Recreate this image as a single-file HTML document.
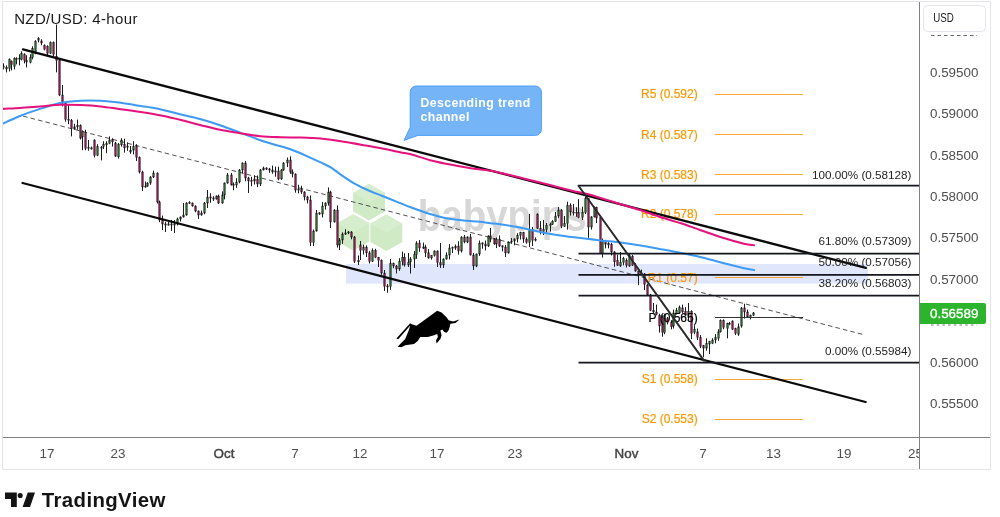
<!DOCTYPE html>
<html><head><meta charset="utf-8"><title>NZD/USD</title>
<style>
html,body{margin:0;padding:0;background:#fff;}
body{width:1000px;height:517px;overflow:hidden;font-family:"Liberation Sans",sans-serif;}
svg{display:block;will-change:transform;}
text{font-family:"Liberation Sans",sans-serif;}
.ax{font-size:13.4px;fill:#4f4f4f;}
.ax.b{fill:#444;stroke:#444;stroke-width:0.45px;}
.pv{font-size:12px;fill:#ff9800;stroke:#ff9800;stroke-width:0.2px;}
.fb{font-size:11.7px;fill:#1e1e1e;}
</style></head><body>
<svg width="1000" height="517" viewBox="0 0 1000 517">
<rect x="0" y="0" width="1000" height="517" fill="#fff"/>
<!-- frame -->
<rect x="2.5" y="1.5" width="988" height="468" fill="none" stroke="#e4e5e9" stroke-width="1"/>
<defs><clipPath id="plot"><rect x="3" y="2" width="916" height="435"/></clipPath></defs>
<g clip-path="url(#plot)">
<!-- watermark -->
<g fill="#cfeac4">
<path d="M369 183.95L385.0 193.075V211.325L369 220.45L353.0 211.325V193.075Z"/><path d="M353.3 214.15L369.3 223.275V241.525L353.3 250.65L337.3 241.525V223.275Z"/><path d="M386.3 214.55L402.3 223.675V241.925L386.3 251.05L370.3 241.925V223.675Z"/>
</g>
<g fill="#d6eecd">
<path d="M369 183.95L385.0 193.075L369 202.2L353.0 193.075Z"/><path d="M353.3 214.15L369.3 223.275L353.3 232.4L337.3 223.275Z"/><path d="M386.3 214.55L402.3 223.675L386.3 232.8L370.3 223.675Z"/>
</g>
<text x="417.8" y="230.6" font-size="44.7" font-weight="bold" fill="#d7d7d7" transform="translate(417.8 0) scale(0.861 1) translate(-417.8 0)">babypips</text>
<!-- zone -->
<rect x="346" y="264" width="522" height="19.6" fill="#dbe3fc" fill-opacity="0.85"/>
<!-- dashed mid -->
<path d="M23.1 116.1L863 334.5" stroke="#484848" stroke-width="0.95" stroke-dasharray="4.6 3.1" fill="none"/>
<!-- candles -->
<path d="M3.5 63.4V69.4" stroke="#1c1c1c" stroke-width="1"/>
<rect x="2.78" y="66.0" width="1.45" height="1.5" fill="#27702b" stroke="#1c1c1c" stroke-width="0.5"/>
<path d="M6.5 65.4V72.4" stroke="#1c1c1c" stroke-width="1"/>
<rect x="5.78" y="67.5" width="1.45" height="1.5" fill="#9c1456" stroke="#1c1c1c" stroke-width="0.5"/>
<path d="M9.5 58.4V71.4" stroke="#1c1c1c" stroke-width="1"/>
<rect x="8.78" y="59.4" width="1.45" height="9.0" fill="#27702b" stroke="#1c1c1c" stroke-width="0.5"/>
<path d="M11.5 60.4V70.4" stroke="#1c1c1c" stroke-width="1"/>
<rect x="10.78" y="61.4" width="1.45" height="3.1" fill="#9c1456" stroke="#1c1c1c" stroke-width="0.5"/>
<path d="M14.5 57.3V69.4" stroke="#1c1c1c" stroke-width="1"/>
<rect x="13.78" y="58.4" width="1.45" height="8.0" fill="#27702b" stroke="#1c1c1c" stroke-width="0.5"/>
<path d="M16.5 57.3V64.4" stroke="#1c1c1c" stroke-width="1"/>
<rect x="15.78" y="58.4" width="1.45" height="1.2" fill="#9c1456" stroke="#1c1c1c" stroke-width="0.5"/>
<path d="M19.5 54.3V65.4" stroke="#1c1c1c" stroke-width="1"/>
<rect x="18.78" y="58.0" width="1.45" height="1.5" fill="#27702b" stroke="#1c1c1c" stroke-width="0.5"/>
<path d="M21.5 51.3V60.4" stroke="#1c1c1c" stroke-width="1"/>
<rect x="20.78" y="53.3" width="1.45" height="6.1" fill="#27702b" stroke="#1c1c1c" stroke-width="0.5"/>
<path d="M24.5 53.3V63.4" stroke="#1c1c1c" stroke-width="1"/>
<rect x="23.78" y="54.3" width="1.45" height="6.1" fill="#9c1456" stroke="#1c1c1c" stroke-width="0.5"/>
<path d="M26.5 55.3V67.4" stroke="#1c1c1c" stroke-width="1"/>
<rect x="25.78" y="60.4" width="1.45" height="1.6" fill="#9c1456" stroke="#1c1c1c" stroke-width="0.5"/>
<path d="M30.5 54.3V63.4" stroke="#1c1c1c" stroke-width="1"/>
<rect x="29.78" y="57.3" width="1.45" height="5.1" fill="#27702b" stroke="#1c1c1c" stroke-width="0.5"/>
<path d="M32.5 46.3V59.4" stroke="#1c1c1c" stroke-width="1"/>
<rect x="31.78" y="48.3" width="1.45" height="9.0" fill="#27702b" stroke="#1c1c1c" stroke-width="0.5"/>
<path d="M35.5 40.2V54.3" stroke="#1c1c1c" stroke-width="1"/>
<rect x="34.78" y="41.2" width="1.45" height="12.1" fill="#27702b" stroke="#1c1c1c" stroke-width="0.5"/>
<path d="M38.5 37.2V42.3" stroke="#1c1c1c" stroke-width="1"/>
<rect x="37.78" y="38.6" width="1.45" height="1.6" fill="#27702b" stroke="#1c1c1c" stroke-width="0.5"/>
<path d="M41.5 39.2V45.3" stroke="#1c1c1c" stroke-width="1"/>
<rect x="40.78" y="41.0" width="1.45" height="2.0" fill="#9c1456" stroke="#1c1c1c" stroke-width="0.5"/>
<path d="M44.5 44.3V50.3" stroke="#1c1c1c" stroke-width="1"/>
<rect x="43.78" y="45.3" width="1.45" height="4.0" fill="#9c1456" stroke="#1c1c1c" stroke-width="0.5"/>
<path d="M47.5 45.3V56.3" stroke="#1c1c1c" stroke-width="1"/>
<rect x="46.78" y="46.3" width="1.45" height="7.0" fill="#9c1456" stroke="#1c1c1c" stroke-width="0.5"/>
<path d="M50.5 41.5V54.0" stroke="#1c1c1c" stroke-width="1"/>
<rect x="49.78" y="42.3" width="1.45" height="11.0" fill="#27702b" stroke="#1c1c1c" stroke-width="0.5"/>
<path d="M53.5 41.5V56.3" stroke="#1c1c1c" stroke-width="1"/>
<rect x="52.78" y="42.3" width="1.45" height="12.0" fill="#9c1456" stroke="#1c1c1c" stroke-width="0.5"/>
<path d="M56.5 24.5V72.4" stroke="#1c1c1c" stroke-width="1"/>
<rect x="55.78" y="56.3" width="1.45" height="4.3" fill="#9c1456" stroke="#1c1c1c" stroke-width="0.5"/>
<path d="M59.5 58.9V96.1" stroke="#1c1c1c" stroke-width="1"/>
<rect x="58.78" y="60.6" width="1.45" height="34.4" fill="#9c1456" stroke="#1c1c1c" stroke-width="0.5"/>
<path d="M62.5 85.0V106.4" stroke="#1c1c1c" stroke-width="1"/>
<rect x="61.78" y="95.0" width="1.45" height="8.5" fill="#9c1456" stroke="#1c1c1c" stroke-width="0.5"/>
<path d="M65.5 102.6V121.7" stroke="#1c1c1c" stroke-width="1"/>
<rect x="64.78" y="103.5" width="1.45" height="16.0" fill="#9c1456" stroke="#1c1c1c" stroke-width="0.5"/>
<path d="M68.5 104.0V124.2" stroke="#1c1c1c" stroke-width="1"/>
<rect x="67.78" y="119.2" width="1.45" height="1.2" fill="#9c1456" stroke="#1c1c1c" stroke-width="0.5"/>
<path d="M71.5 119.0V136.4" stroke="#1c1c1c" stroke-width="1"/>
<rect x="70.78" y="120.2" width="1.45" height="8.4" fill="#9c1456" stroke="#1c1c1c" stroke-width="0.5"/>
<path d="M74.5 123.8V129.8" stroke="#1c1c1c" stroke-width="1"/>
<rect x="73.78" y="126.8" width="1.45" height="2.4" fill="#27702b" stroke="#1c1c1c" stroke-width="0.5"/>
<path d="M77.5 119.6V129.8" stroke="#1c1c1c" stroke-width="1"/>
<rect x="76.78" y="125.7" width="1.45" height="1.2" fill="#27702b" stroke="#1c1c1c" stroke-width="0.5"/>
<path d="M80.5 124.4V139.4" stroke="#1c1c1c" stroke-width="1"/>
<rect x="79.78" y="125.6" width="1.45" height="12.6" fill="#9c1456" stroke="#1c1c1c" stroke-width="0.5"/>
<path d="M82.5 130.4V150.2" stroke="#1c1c1c" stroke-width="1"/>
<rect x="81.78" y="131.6" width="1.45" height="5.4" fill="#27702b" stroke="#1c1c1c" stroke-width="0.5"/>
<path d="M85.5 129.8V150.2" stroke="#1c1c1c" stroke-width="1"/>
<rect x="84.78" y="132.2" width="1.45" height="16.2" fill="#9c1456" stroke="#1c1c1c" stroke-width="0.5"/>
<path d="M88.5 140.0V150.8" stroke="#1c1c1c" stroke-width="1"/>
<rect x="87.78" y="147.2" width="1.45" height="1.2" fill="#27702b" stroke="#1c1c1c" stroke-width="0.5"/>
<path d="M91.5 146.6V149.6" stroke="#1c1c1c" stroke-width="1"/>
<rect x="90.78" y="147.8" width="1.45" height="1.2" fill="#9c1456" stroke="#1c1c1c" stroke-width="0.5"/>
<path d="M94.5 139.4V157.4" stroke="#1c1c1c" stroke-width="1"/>
<rect x="93.78" y="140.0" width="1.45" height="15.6" fill="#9c1456" stroke="#1c1c1c" stroke-width="0.5"/>
<path d="M97.5 144.2V156.2" stroke="#1c1c1c" stroke-width="1"/>
<rect x="96.78" y="146.6" width="1.45" height="9.0" fill="#27702b" stroke="#1c1c1c" stroke-width="0.5"/>
<path d="M101.5 146.0V160.4" stroke="#1c1c1c" stroke-width="1"/>
<rect x="100.78" y="147.2" width="1.45" height="1.2" fill="#9c1456" stroke="#1c1c1c" stroke-width="0.5"/>
<path d="M103.5 141.2V149.0" stroke="#1c1c1c" stroke-width="1"/>
<rect x="102.78" y="144.2" width="1.45" height="2.4" fill="#27702b" stroke="#1c1c1c" stroke-width="0.5"/>
<path d="M106.5 141.2V153.2" stroke="#1c1c1c" stroke-width="1"/>
<rect x="105.78" y="143.6" width="1.45" height="1.2" fill="#27702b" stroke="#1c1c1c" stroke-width="0.5"/>
<path d="M109.5 136.4V144.2" stroke="#1c1c1c" stroke-width="1"/>
<rect x="108.78" y="140.0" width="1.45" height="3.6" fill="#27702b" stroke="#1c1c1c" stroke-width="0.5"/>
<path d="M112.5 138.2V146.6" stroke="#1c1c1c" stroke-width="1"/>
<rect x="111.78" y="139.4" width="1.45" height="2.4" fill="#9c1456" stroke="#1c1c1c" stroke-width="0.5"/>
<path d="M115.5 141.8V156.8" stroke="#1c1c1c" stroke-width="1"/>
<rect x="114.78" y="143.0" width="1.45" height="13.2" fill="#9c1456" stroke="#1c1c1c" stroke-width="0.5"/>
<path d="M118.5 143.0V158.6" stroke="#1c1c1c" stroke-width="1"/>
<rect x="117.78" y="144.2" width="1.45" height="12.6" fill="#27702b" stroke="#1c1c1c" stroke-width="0.5"/>
<path d="M121.5 138.2V146.6" stroke="#1c1c1c" stroke-width="1"/>
<rect x="120.78" y="140.0" width="1.45" height="4.8" fill="#27702b" stroke="#1c1c1c" stroke-width="0.5"/>
<path d="M124.5 138.8V152.6" stroke="#1c1c1c" stroke-width="1"/>
<rect x="123.78" y="144.2" width="1.45" height="3.6" fill="#9c1456" stroke="#1c1c1c" stroke-width="0.5"/>
<path d="M127.5 142.4V150.8" stroke="#1c1c1c" stroke-width="1"/>
<rect x="126.78" y="146.0" width="1.45" height="1.2" fill="#27702b" stroke="#1c1c1c" stroke-width="0.5"/>
<path d="M130.5 146.0V153.8" stroke="#1c1c1c" stroke-width="1"/>
<rect x="129.78" y="150.2" width="1.45" height="1.8" fill="#9c1456" stroke="#1c1c1c" stroke-width="0.5"/>
<path d="M133.5 141.2V154.4" stroke="#1c1c1c" stroke-width="1"/>
<rect x="132.78" y="146.6" width="1.45" height="3.6" fill="#27702b" stroke="#1c1c1c" stroke-width="0.5"/>
<path d="M136.5 144.2V161.0" stroke="#1c1c1c" stroke-width="1"/>
<rect x="135.78" y="146.0" width="1.45" height="11.4" fill="#9c1456" stroke="#1c1c1c" stroke-width="0.5"/>
<path d="M139.5 156.4V173.5" stroke="#1c1c1c" stroke-width="1"/>
<rect x="138.78" y="157.4" width="1.45" height="14.6" fill="#9c1456" stroke="#1c1c1c" stroke-width="0.5"/>
<path d="M142.5 170.7V190.9" stroke="#1c1c1c" stroke-width="1"/>
<rect x="141.78" y="172.0" width="1.45" height="15.0" fill="#9c1456" stroke="#1c1c1c" stroke-width="0.5"/>
<path d="M145.5 181.5V187.8" stroke="#1c1c1c" stroke-width="1"/>
<rect x="144.78" y="185.9" width="1.45" height="1.2" fill="#27702b" stroke="#1c1c1c" stroke-width="0.5"/>
<path d="M147.5 182.2V186.9" stroke="#1c1c1c" stroke-width="1"/>
<rect x="146.78" y="183.0" width="1.45" height="3.0" fill="#27702b" stroke="#1c1c1c" stroke-width="0.5"/>
<path d="M150.5 176.1V184.8" stroke="#1c1c1c" stroke-width="1"/>
<rect x="149.78" y="177.0" width="1.45" height="6.0" fill="#27702b" stroke="#1c1c1c" stroke-width="0.5"/>
<path d="M153.5 170.7V178.0" stroke="#1c1c1c" stroke-width="1"/>
<rect x="152.78" y="173.0" width="1.45" height="4.0" fill="#27702b" stroke="#1c1c1c" stroke-width="0.5"/>
<path d="M157.5 172.5V203.5" stroke="#1c1c1c" stroke-width="1"/>
<rect x="156.78" y="173.0" width="1.45" height="29.0" fill="#9c1456" stroke="#1c1c1c" stroke-width="0.5"/>
<path d="M159.5 200.6V222.2" stroke="#1c1c1c" stroke-width="1"/>
<rect x="158.78" y="202.0" width="1.45" height="18.0" fill="#9c1456" stroke="#1c1c1c" stroke-width="0.5"/>
<path d="M162.5 215.6V230.0" stroke="#1c1c1c" stroke-width="1"/>
<rect x="161.78" y="220.0" width="1.45" height="4.0" fill="#9c1456" stroke="#1c1c1c" stroke-width="0.5"/>
<path d="M165.5 221.9V232.0" stroke="#1c1c1c" stroke-width="1"/>
<rect x="164.78" y="223.9" width="1.45" height="1.2" fill="#9c1456" stroke="#1c1c1c" stroke-width="0.5"/>
<path d="M168.5 221.2V225.6" stroke="#1c1c1c" stroke-width="1"/>
<rect x="167.78" y="223.9" width="1.45" height="1.2" fill="#27702b" stroke="#1c1c1c" stroke-width="0.5"/>
<path d="M171.5 219.9V231.0" stroke="#1c1c1c" stroke-width="1"/>
<rect x="170.78" y="223.9" width="1.45" height="1.2" fill="#9c1456" stroke="#1c1c1c" stroke-width="0.5"/>
<path d="M174.5 220.0V233.0" stroke="#1c1c1c" stroke-width="1"/>
<rect x="173.78" y="223.9" width="1.45" height="1.2" fill="#27702b" stroke="#1c1c1c" stroke-width="0.5"/>
<path d="M177.5 217.6V225.5" stroke="#1c1c1c" stroke-width="1"/>
<rect x="176.78" y="219.0" width="1.45" height="5.0" fill="#27702b" stroke="#1c1c1c" stroke-width="0.5"/>
<path d="M180.5 216.4V221.5" stroke="#1c1c1c" stroke-width="1"/>
<rect x="179.78" y="217.0" width="1.45" height="2.0" fill="#27702b" stroke="#1c1c1c" stroke-width="0.5"/>
<path d="M183.5 203.0V217.6" stroke="#1c1c1c" stroke-width="1"/>
<rect x="182.78" y="215.0" width="1.45" height="2.0" fill="#27702b" stroke="#1c1c1c" stroke-width="0.5"/>
<path d="M186.5 202.2V215.7" stroke="#1c1c1c" stroke-width="1"/>
<rect x="185.78" y="203.0" width="1.45" height="12.0" fill="#27702b" stroke="#1c1c1c" stroke-width="0.5"/>
<path d="M189.5 201.2V204.1" stroke="#1c1c1c" stroke-width="1"/>
<rect x="188.78" y="202.4" width="1.45" height="1.2" fill="#9c1456" stroke="#1c1c1c" stroke-width="0.5"/>
<path d="M192.5 202.5V206.7" stroke="#1c1c1c" stroke-width="1"/>
<rect x="191.78" y="203.0" width="1.45" height="3.0" fill="#9c1456" stroke="#1c1c1c" stroke-width="0.5"/>
<path d="M195.5 205.4V212.3" stroke="#1c1c1c" stroke-width="1"/>
<rect x="194.78" y="206.0" width="1.45" height="5.0" fill="#9c1456" stroke="#1c1c1c" stroke-width="0.5"/>
<path d="M198.5 210.5V218.9" stroke="#1c1c1c" stroke-width="1"/>
<rect x="197.78" y="211.0" width="1.45" height="4.0" fill="#9c1456" stroke="#1c1c1c" stroke-width="0.5"/>
<path d="M201.5 210.6V215.7" stroke="#1c1c1c" stroke-width="1"/>
<rect x="200.78" y="213.0" width="1.45" height="2.0" fill="#27702b" stroke="#1c1c1c" stroke-width="0.5"/>
<path d="M204.5 202.0V214.3" stroke="#1c1c1c" stroke-width="1"/>
<rect x="203.78" y="203.0" width="1.45" height="10.0" fill="#27702b" stroke="#1c1c1c" stroke-width="0.5"/>
<path d="M207.5 190.0V208.0" stroke="#1c1c1c" stroke-width="1"/>
<rect x="206.78" y="197.0" width="1.45" height="6.0" fill="#27702b" stroke="#1c1c1c" stroke-width="0.5"/>
<path d="M210.5 193.2V202.8" stroke="#1c1c1c" stroke-width="1"/>
<rect x="209.78" y="196.9" width="1.45" height="1.2" fill="#9c1456" stroke="#1c1c1c" stroke-width="0.5"/>
<path d="M213.5 196.2V200.9" stroke="#1c1c1c" stroke-width="1"/>
<rect x="212.78" y="197.9" width="1.45" height="1.2" fill="#9c1456" stroke="#1c1c1c" stroke-width="0.5"/>
<path d="M216.5 195.4V199.6" stroke="#1c1c1c" stroke-width="1"/>
<rect x="215.78" y="196.0" width="1.45" height="3.0" fill="#27702b" stroke="#1c1c1c" stroke-width="0.5"/>
<path d="M218.5 194.7V204.0" stroke="#1c1c1c" stroke-width="1"/>
<rect x="217.78" y="196.0" width="1.45" height="7.0" fill="#9c1456" stroke="#1c1c1c" stroke-width="0.5"/>
<path d="M222.5 191.4V203.7" stroke="#1c1c1c" stroke-width="1"/>
<rect x="221.78" y="195.0" width="1.45" height="8.0" fill="#27702b" stroke="#1c1c1c" stroke-width="0.5"/>
<path d="M224.5 182.5V199.4" stroke="#1c1c1c" stroke-width="1"/>
<rect x="223.78" y="183.0" width="1.45" height="12.0" fill="#27702b" stroke="#1c1c1c" stroke-width="0.5"/>
<path d="M227.5 173.0V183.7" stroke="#1c1c1c" stroke-width="1"/>
<rect x="226.78" y="175.0" width="1.45" height="8.0" fill="#27702b" stroke="#1c1c1c" stroke-width="0.5"/>
<path d="M231.5 172.9V185.5" stroke="#1c1c1c" stroke-width="1"/>
<rect x="230.78" y="175.0" width="1.45" height="10.0" fill="#9c1456" stroke="#1c1c1c" stroke-width="0.5"/>
<path d="M233.5 182.4V190.2" stroke="#1c1c1c" stroke-width="1"/>
<rect x="232.78" y="184.4" width="1.45" height="1.2" fill="#9c1456" stroke="#1c1c1c" stroke-width="0.5"/>
<path d="M236.5 178.2V187.9" stroke="#1c1c1c" stroke-width="1"/>
<rect x="235.78" y="182.0" width="1.45" height="3.0" fill="#27702b" stroke="#1c1c1c" stroke-width="0.5"/>
<path d="M239.5 169.0V183.3" stroke="#1c1c1c" stroke-width="1"/>
<rect x="238.78" y="170.0" width="1.45" height="12.0" fill="#27702b" stroke="#1c1c1c" stroke-width="0.5"/>
<path d="M242.5 162.3V173.3" stroke="#1c1c1c" stroke-width="1"/>
<rect x="241.78" y="163.0" width="1.45" height="7.0" fill="#27702b" stroke="#1c1c1c" stroke-width="0.5"/>
<path d="M245.5 161.0V181.3" stroke="#1c1c1c" stroke-width="1"/>
<rect x="244.78" y="163.0" width="1.45" height="15.0" fill="#9c1456" stroke="#1c1c1c" stroke-width="0.5"/>
<path d="M248.5 176.8V193.0" stroke="#1c1c1c" stroke-width="1"/>
<rect x="247.78" y="178.0" width="1.45" height="3.0" fill="#9c1456" stroke="#1c1c1c" stroke-width="0.5"/>
<path d="M251.5 176.9V186.2" stroke="#1c1c1c" stroke-width="1"/>
<rect x="250.78" y="180.4" width="1.45" height="1.2" fill="#9c1456" stroke="#1c1c1c" stroke-width="0.5"/>
<path d="M254.5 175.2V184.5" stroke="#1c1c1c" stroke-width="1"/>
<rect x="253.78" y="179.0" width="1.45" height="2.0" fill="#27702b" stroke="#1c1c1c" stroke-width="0.5"/>
<path d="M257.5 175.5V187.1" stroke="#1c1c1c" stroke-width="1"/>
<rect x="256.78" y="179.0" width="1.45" height="5.0" fill="#9c1456" stroke="#1c1c1c" stroke-width="0.5"/>
<path d="M260.5 169.1V186.0" stroke="#1c1c1c" stroke-width="1"/>
<rect x="259.78" y="170.0" width="1.45" height="14.0" fill="#27702b" stroke="#1c1c1c" stroke-width="0.5"/>
<path d="M263.5 166.7V170.5" stroke="#1c1c1c" stroke-width="1"/>
<rect x="262.78" y="168.0" width="1.45" height="2.0" fill="#27702b" stroke="#1c1c1c" stroke-width="0.5"/>
<path d="M266.5 167.4V170.1" stroke="#1c1c1c" stroke-width="1"/>
<rect x="265.78" y="167.9" width="1.45" height="1.2" fill="#9c1456" stroke="#1c1c1c" stroke-width="0.5"/>
<path d="M269.5 167.9V172.9" stroke="#1c1c1c" stroke-width="1"/>
<rect x="268.78" y="168.9" width="1.45" height="1.2" fill="#9c1456" stroke="#1c1c1c" stroke-width="0.5"/>
<path d="M272.5 165.6V173.7" stroke="#1c1c1c" stroke-width="1"/>
<rect x="271.78" y="170.0" width="1.45" height="2.0" fill="#9c1456" stroke="#1c1c1c" stroke-width="0.5"/>
<path d="M275.5 166.6V176.7" stroke="#1c1c1c" stroke-width="1"/>
<rect x="274.78" y="170.9" width="1.45" height="1.2" fill="#27702b" stroke="#1c1c1c" stroke-width="0.5"/>
<path d="M278.5 166.6V180.3" stroke="#1c1c1c" stroke-width="1"/>
<rect x="277.78" y="171.0" width="1.45" height="8.0" fill="#9c1456" stroke="#1c1c1c" stroke-width="0.5"/>
<path d="M281.5 169.1V179.9" stroke="#1c1c1c" stroke-width="1"/>
<rect x="280.78" y="170.0" width="1.45" height="9.0" fill="#27702b" stroke="#1c1c1c" stroke-width="0.5"/>
<path d="M283.5 162.2V170.8" stroke="#1c1c1c" stroke-width="1"/>
<rect x="282.78" y="163.0" width="1.45" height="7.0" fill="#27702b" stroke="#1c1c1c" stroke-width="0.5"/>
<path d="M287.5 157.5V167.1" stroke="#1c1c1c" stroke-width="1"/>
<rect x="286.78" y="160.0" width="1.45" height="3.0" fill="#27702b" stroke="#1c1c1c" stroke-width="0.5"/>
<path d="M290.5 156.3V173.8" stroke="#1c1c1c" stroke-width="1"/>
<rect x="289.78" y="160.0" width="1.45" height="12.0" fill="#9c1456" stroke="#1c1c1c" stroke-width="0.5"/>
<path d="M292.5 169.4V177.4" stroke="#1c1c1c" stroke-width="1"/>
<rect x="291.78" y="172.0" width="1.45" height="2.0" fill="#9c1456" stroke="#1c1c1c" stroke-width="0.5"/>
<path d="M295.5 173.4V192.7" stroke="#1c1c1c" stroke-width="1"/>
<rect x="294.78" y="174.0" width="1.45" height="16.0" fill="#9c1456" stroke="#1c1c1c" stroke-width="0.5"/>
<path d="M298.5 184.8V193.4" stroke="#1c1c1c" stroke-width="1"/>
<rect x="297.78" y="188.9" width="1.45" height="1.2" fill="#27702b" stroke="#1c1c1c" stroke-width="0.5"/>
<path d="M301.5 185.8V193.8" stroke="#1c1c1c" stroke-width="1"/>
<rect x="300.78" y="189.0" width="1.45" height="3.0" fill="#9c1456" stroke="#1c1c1c" stroke-width="0.5"/>
<path d="M304.5 191.2V200.4" stroke="#1c1c1c" stroke-width="1"/>
<rect x="303.78" y="192.0" width="1.45" height="5.0" fill="#9c1456" stroke="#1c1c1c" stroke-width="0.5"/>
<path d="M307.5 195.8V203.4" stroke="#1c1c1c" stroke-width="1"/>
<rect x="306.78" y="197.0" width="1.45" height="3.0" fill="#9c1456" stroke="#1c1c1c" stroke-width="0.5"/>
<path d="M310.5 195.5V246.0" stroke="#1c1c1c" stroke-width="1"/>
<rect x="309.78" y="200.0" width="1.45" height="42.5" fill="#9c1456" stroke="#1c1c1c" stroke-width="0.5"/>
<path d="M313.5 229.5V246.0" stroke="#1c1c1c" stroke-width="1"/>
<rect x="312.78" y="231.0" width="1.45" height="11.5" fill="#27702b" stroke="#1c1c1c" stroke-width="0.5"/>
<path d="M316.5 210.0V231.7" stroke="#1c1c1c" stroke-width="1"/>
<rect x="315.78" y="213.0" width="1.45" height="18.0" fill="#27702b" stroke="#1c1c1c" stroke-width="0.5"/>
<path d="M319.5 212.2V214.8" stroke="#1c1c1c" stroke-width="1"/>
<rect x="318.78" y="212.9" width="1.45" height="1.2" fill="#9c1456" stroke="#1c1c1c" stroke-width="0.5"/>
<path d="M322.5 201.9V217.5" stroke="#1c1c1c" stroke-width="1"/>
<rect x="321.78" y="206.0" width="1.45" height="8.0" fill="#27702b" stroke="#1c1c1c" stroke-width="0.5"/>
<path d="M325.5 202.3V209.6" stroke="#1c1c1c" stroke-width="1"/>
<rect x="324.78" y="203.0" width="1.45" height="3.0" fill="#27702b" stroke="#1c1c1c" stroke-width="0.5"/>
<path d="M328.5 187.4V205.6" stroke="#1c1c1c" stroke-width="1"/>
<rect x="327.78" y="192.0" width="1.45" height="11.0" fill="#27702b" stroke="#1c1c1c" stroke-width="0.5"/>
<path d="M330.5 190.7V228.0" stroke="#1c1c1c" stroke-width="1"/>
<rect x="329.78" y="192.0" width="1.45" height="30.0" fill="#9c1456" stroke="#1c1c1c" stroke-width="0.5"/>
<path d="M334.5 209.3V222.5" stroke="#1c1c1c" stroke-width="1"/>
<rect x="333.78" y="210.0" width="1.45" height="12.0" fill="#27702b" stroke="#1c1c1c" stroke-width="0.5"/>
<path d="M337.5 205.5V247.6" stroke="#1c1c1c" stroke-width="1"/>
<rect x="336.78" y="210.0" width="1.45" height="35.0" fill="#9c1456" stroke="#1c1c1c" stroke-width="0.5"/>
<path d="M339.5 238.0V250.0" stroke="#1c1c1c" stroke-width="1"/>
<rect x="338.78" y="240.0" width="1.45" height="5.0" fill="#27702b" stroke="#1c1c1c" stroke-width="0.5"/>
<path d="M342.5 232.4V243.9" stroke="#1c1c1c" stroke-width="1"/>
<rect x="341.78" y="234.0" width="1.45" height="6.0" fill="#27702b" stroke="#1c1c1c" stroke-width="0.5"/>
<path d="M345.5 229.3V234.9" stroke="#1c1c1c" stroke-width="1"/>
<rect x="344.78" y="232.9" width="1.45" height="1.2" fill="#27702b" stroke="#1c1c1c" stroke-width="0.5"/>
<path d="M348.5 230.9V234.2" stroke="#1c1c1c" stroke-width="1"/>
<rect x="347.78" y="231.9" width="1.45" height="1.2" fill="#27702b" stroke="#1c1c1c" stroke-width="0.5"/>
<path d="M351.5 231.1V239.3" stroke="#1c1c1c" stroke-width="1"/>
<rect x="350.78" y="232.0" width="1.45" height="5.0" fill="#9c1456" stroke="#1c1c1c" stroke-width="0.5"/>
<path d="M354.5 236.0V263.0" stroke="#1c1c1c" stroke-width="1"/>
<rect x="353.78" y="237.0" width="1.45" height="24.5" fill="#9c1456" stroke="#1c1c1c" stroke-width="0.5"/>
<path d="M358.5 255.5V265.0" stroke="#1c1c1c" stroke-width="1"/>
<rect x="357.78" y="260.6" width="1.45" height="1.2" fill="#27702b" stroke="#1c1c1c" stroke-width="0.5"/>
<path d="M360.5 241.0V260.0" stroke="#1c1c1c" stroke-width="1"/>
<rect x="359.78" y="245.0" width="1.45" height="5.4" fill="#9c1456" stroke="#1c1c1c" stroke-width="0.5"/>
<path d="M363.5 244.7V254.5" stroke="#1c1c1c" stroke-width="1"/>
<rect x="362.78" y="247.0" width="1.45" height="3.4" fill="#27702b" stroke="#1c1c1c" stroke-width="0.5"/>
<path d="M366.5 245.4V257.0" stroke="#1c1c1c" stroke-width="1"/>
<rect x="365.78" y="247.0" width="1.45" height="5.8" fill="#9c1456" stroke="#1c1c1c" stroke-width="0.5"/>
<path d="M369.5 250.9V263.5" stroke="#1c1c1c" stroke-width="1"/>
<rect x="368.78" y="252.8" width="1.45" height="8.7" fill="#9c1456" stroke="#1c1c1c" stroke-width="0.5"/>
<path d="M372.5 248.4V262.0" stroke="#1c1c1c" stroke-width="1"/>
<rect x="371.78" y="250.4" width="1.45" height="11.1" fill="#27702b" stroke="#1c1c1c" stroke-width="0.5"/>
<path d="M375.5 248.8V258.2" stroke="#1c1c1c" stroke-width="1"/>
<rect x="374.78" y="250.4" width="1.45" height="7.0" fill="#9c1456" stroke="#1c1c1c" stroke-width="0.5"/>
<path d="M378.5 256.9V267.0" stroke="#1c1c1c" stroke-width="1"/>
<rect x="377.78" y="257.4" width="1.45" height="2.9" fill="#9c1456" stroke="#1c1c1c" stroke-width="0.5"/>
<path d="M381.5 259.5V274.8" stroke="#1c1c1c" stroke-width="1"/>
<rect x="380.78" y="260.3" width="1.45" height="12.7" fill="#9c1456" stroke="#1c1c1c" stroke-width="0.5"/>
<path d="M384.5 270.0V291.0" stroke="#1c1c1c" stroke-width="1"/>
<rect x="383.78" y="273.0" width="1.45" height="13.4" fill="#9c1456" stroke="#1c1c1c" stroke-width="0.5"/>
<path d="M387.5 284.0V292.8" stroke="#1c1c1c" stroke-width="1"/>
<rect x="386.78" y="285.8" width="1.45" height="1.2" fill="#9c1456" stroke="#1c1c1c" stroke-width="0.5"/>
<path d="M390.5 259.0V289.8" stroke="#1c1c1c" stroke-width="1"/>
<rect x="389.78" y="263.2" width="1.45" height="23.3" fill="#27702b" stroke="#1c1c1c" stroke-width="0.5"/>
<path d="M393.5 262.6V268.2" stroke="#1c1c1c" stroke-width="1"/>
<rect x="392.78" y="263.2" width="1.45" height="2.8" fill="#9c1456" stroke="#1c1c1c" stroke-width="0.5"/>
<path d="M396.5 265.0V273.5" stroke="#1c1c1c" stroke-width="1"/>
<rect x="395.78" y="266.0" width="1.45" height="3.0" fill="#9c1456" stroke="#1c1c1c" stroke-width="0.5"/>
<path d="M399.5 258.2V270.9" stroke="#1c1c1c" stroke-width="1"/>
<rect x="398.78" y="261.5" width="1.45" height="7.5" fill="#27702b" stroke="#1c1c1c" stroke-width="0.5"/>
<path d="M402.5 251.6V265.5" stroke="#1c1c1c" stroke-width="1"/>
<rect x="401.78" y="257.4" width="1.45" height="4.1" fill="#27702b" stroke="#1c1c1c" stroke-width="0.5"/>
<path d="M404.5 253.3V266.6" stroke="#1c1c1c" stroke-width="1"/>
<rect x="403.78" y="257.4" width="1.45" height="7.6" fill="#9c1456" stroke="#1c1c1c" stroke-width="0.5"/>
<path d="M408.5 253.0V267.0" stroke="#1c1c1c" stroke-width="1"/>
<rect x="407.78" y="262.0" width="1.45" height="3.0" fill="#27702b" stroke="#1c1c1c" stroke-width="0.5"/>
<path d="M410.5 257.1V273.6" stroke="#1c1c1c" stroke-width="1"/>
<rect x="409.78" y="259.0" width="1.45" height="3.0" fill="#27702b" stroke="#1c1c1c" stroke-width="0.5"/>
<path d="M414.5 251.0V268.0" stroke="#1c1c1c" stroke-width="1"/>
<rect x="413.78" y="254.5" width="1.45" height="4.5" fill="#27702b" stroke="#1c1c1c" stroke-width="0.5"/>
<path d="M416.5 241.2V258.8" stroke="#1c1c1c" stroke-width="1"/>
<rect x="415.78" y="243.0" width="1.45" height="11.5" fill="#27702b" stroke="#1c1c1c" stroke-width="0.5"/>
<path d="M419.5 240.0V251.9" stroke="#1c1c1c" stroke-width="1"/>
<rect x="418.78" y="243.0" width="1.45" height="5.0" fill="#9c1456" stroke="#1c1c1c" stroke-width="0.5"/>
<path d="M423.5 242.6V249.1" stroke="#1c1c1c" stroke-width="1"/>
<rect x="422.78" y="246.9" width="1.45" height="1.2" fill="#27702b" stroke="#1c1c1c" stroke-width="0.5"/>
<path d="M425.5 244.8V257.1" stroke="#1c1c1c" stroke-width="1"/>
<rect x="424.78" y="247.0" width="1.45" height="5.8" fill="#9c1456" stroke="#1c1c1c" stroke-width="0.5"/>
<path d="M428.5 249.1V258.7" stroke="#1c1c1c" stroke-width="1"/>
<rect x="427.78" y="252.8" width="1.45" height="5.2" fill="#9c1456" stroke="#1c1c1c" stroke-width="0.5"/>
<path d="M431.5 255.1V259.6" stroke="#1c1c1c" stroke-width="1"/>
<rect x="430.78" y="255.7" width="1.45" height="2.3" fill="#27702b" stroke="#1c1c1c" stroke-width="0.5"/>
<path d="M434.5 250.4V256.6" stroke="#1c1c1c" stroke-width="1"/>
<rect x="433.78" y="251.0" width="1.45" height="4.7" fill="#27702b" stroke="#1c1c1c" stroke-width="0.5"/>
<path d="M437.5 250.4V267.0" stroke="#1c1c1c" stroke-width="1"/>
<rect x="436.78" y="251.0" width="1.45" height="11.6" fill="#9c1456" stroke="#1c1c1c" stroke-width="0.5"/>
<path d="M440.5 243.0V268.0" stroke="#1c1c1c" stroke-width="1"/>
<rect x="439.78" y="262.6" width="1.45" height="2.4" fill="#9c1456" stroke="#1c1c1c" stroke-width="0.5"/>
<path d="M443.5 258.3V268.0" stroke="#1c1c1c" stroke-width="1"/>
<rect x="442.78" y="259.0" width="1.45" height="6.0" fill="#27702b" stroke="#1c1c1c" stroke-width="0.5"/>
<path d="M446.5 252.3V259.7" stroke="#1c1c1c" stroke-width="1"/>
<rect x="445.78" y="255.0" width="1.45" height="4.0" fill="#27702b" stroke="#1c1c1c" stroke-width="0.5"/>
<path d="M449.5 244.1V259.5" stroke="#1c1c1c" stroke-width="1"/>
<rect x="448.78" y="248.0" width="1.45" height="7.0" fill="#27702b" stroke="#1c1c1c" stroke-width="0.5"/>
<path d="M452.5 246.5V253.0" stroke="#1c1c1c" stroke-width="1"/>
<rect x="451.78" y="247.4" width="1.45" height="1.2" fill="#9c1456" stroke="#1c1c1c" stroke-width="0.5"/>
<path d="M455.5 244.5V249.8" stroke="#1c1c1c" stroke-width="1"/>
<rect x="454.78" y="246.0" width="1.45" height="2.0" fill="#27702b" stroke="#1c1c1c" stroke-width="0.5"/>
<path d="M458.5 241.4V254.6" stroke="#1c1c1c" stroke-width="1"/>
<rect x="457.78" y="246.0" width="1.45" height="5.0" fill="#9c1456" stroke="#1c1c1c" stroke-width="0.5"/>
<path d="M461.5 236.3V252.6" stroke="#1c1c1c" stroke-width="1"/>
<rect x="460.78" y="237.0" width="1.45" height="14.0" fill="#27702b" stroke="#1c1c1c" stroke-width="0.5"/>
<path d="M464.5 235.0V243.2" stroke="#1c1c1c" stroke-width="1"/>
<rect x="463.78" y="237.0" width="1.45" height="5.0" fill="#9c1456" stroke="#1c1c1c" stroke-width="0.5"/>
<path d="M467.5 236.2V243.2" stroke="#1c1c1c" stroke-width="1"/>
<rect x="466.78" y="237.0" width="1.45" height="5.0" fill="#27702b" stroke="#1c1c1c" stroke-width="0.5"/>
<path d="M470.5 234.0V255.5" stroke="#1c1c1c" stroke-width="1"/>
<rect x="469.78" y="237.0" width="1.45" height="18.0" fill="#9c1456" stroke="#1c1c1c" stroke-width="0.5"/>
<path d="M473.5 252.9V270.0" stroke="#1c1c1c" stroke-width="1"/>
<rect x="472.78" y="255.0" width="1.45" height="11.0" fill="#9c1456" stroke="#1c1c1c" stroke-width="0.5"/>
<path d="M476.5 253.5V267.2" stroke="#1c1c1c" stroke-width="1"/>
<rect x="475.78" y="254.0" width="1.45" height="12.0" fill="#27702b" stroke="#1c1c1c" stroke-width="0.5"/>
<path d="M479.5 240.5V255.9" stroke="#1c1c1c" stroke-width="1"/>
<rect x="478.78" y="243.0" width="1.45" height="11.0" fill="#27702b" stroke="#1c1c1c" stroke-width="0.5"/>
<path d="M482.5 242.3V248.7" stroke="#1c1c1c" stroke-width="1"/>
<rect x="481.78" y="242.9" width="1.45" height="1.2" fill="#9c1456" stroke="#1c1c1c" stroke-width="0.5"/>
<path d="M485.5 240.6V250.5" stroke="#1c1c1c" stroke-width="1"/>
<rect x="484.78" y="244.0" width="1.45" height="2.0" fill="#9c1456" stroke="#1c1c1c" stroke-width="0.5"/>
<path d="M488.5 235.4V247.0" stroke="#1c1c1c" stroke-width="1"/>
<rect x="487.78" y="236.0" width="1.45" height="10.0" fill="#27702b" stroke="#1c1c1c" stroke-width="0.5"/>
<path d="M490.5 228.0V242.3" stroke="#1c1c1c" stroke-width="1"/>
<rect x="489.78" y="236.0" width="1.45" height="3.0" fill="#9c1456" stroke="#1c1c1c" stroke-width="0.5"/>
<path d="M494.5 238.0V244.7" stroke="#1c1c1c" stroke-width="1"/>
<rect x="493.78" y="239.0" width="1.45" height="5.0" fill="#9c1456" stroke="#1c1c1c" stroke-width="0.5"/>
<path d="M496.5 237.4V248.1" stroke="#1c1c1c" stroke-width="1"/>
<rect x="495.78" y="239.0" width="1.45" height="5.0" fill="#27702b" stroke="#1c1c1c" stroke-width="0.5"/>
<path d="M499.5 235.4V247.0" stroke="#1c1c1c" stroke-width="1"/>
<rect x="498.78" y="239.0" width="1.45" height="7.0" fill="#9c1456" stroke="#1c1c1c" stroke-width="0.5"/>
<path d="M502.5 245.2V251.3" stroke="#1c1c1c" stroke-width="1"/>
<rect x="501.78" y="245.9" width="1.45" height="1.2" fill="#9c1456" stroke="#1c1c1c" stroke-width="0.5"/>
<path d="M505.5 244.8V257.0" stroke="#1c1c1c" stroke-width="1"/>
<rect x="504.78" y="247.0" width="1.45" height="6.0" fill="#9c1456" stroke="#1c1c1c" stroke-width="0.5"/>
<path d="M508.5 241.4V253.5" stroke="#1c1c1c" stroke-width="1"/>
<rect x="507.78" y="242.0" width="1.45" height="11.0" fill="#27702b" stroke="#1c1c1c" stroke-width="0.5"/>
<path d="M511.5 238.1V243.7" stroke="#1c1c1c" stroke-width="1"/>
<rect x="510.78" y="240.9" width="1.45" height="1.2" fill="#27702b" stroke="#1c1c1c" stroke-width="0.5"/>
<path d="M514.5 238.4V245.3" stroke="#1c1c1c" stroke-width="1"/>
<rect x="513.78" y="239.0" width="1.45" height="2.0" fill="#27702b" stroke="#1c1c1c" stroke-width="0.5"/>
<path d="M517.5 233.2V242.4" stroke="#1c1c1c" stroke-width="1"/>
<rect x="516.78" y="235.7" width="1.45" height="3.3" fill="#27702b" stroke="#1c1c1c" stroke-width="0.5"/>
<path d="M520.5 231.8V239.5" stroke="#1c1c1c" stroke-width="1"/>
<rect x="519.78" y="232.4" width="1.45" height="3.3" fill="#27702b" stroke="#1c1c1c" stroke-width="0.5"/>
<path d="M523.5 231.8V242.8" stroke="#1c1c1c" stroke-width="1"/>
<rect x="522.78" y="232.4" width="1.45" height="6.6" fill="#9c1456" stroke="#1c1c1c" stroke-width="0.5"/>
<path d="M526.5 237.3V243.7" stroke="#1c1c1c" stroke-width="1"/>
<rect x="525.78" y="239.0" width="1.45" height="3.5" fill="#9c1456" stroke="#1c1c1c" stroke-width="0.5"/>
<path d="M529.5 214.0V247.0" stroke="#1c1c1c" stroke-width="1"/>
<rect x="528.78" y="229.7" width="1.45" height="12.8" fill="#27702b" stroke="#1c1c1c" stroke-width="0.5"/>
<path d="M532.5 227.0V246.0" stroke="#1c1c1c" stroke-width="1"/>
<rect x="531.78" y="229.7" width="1.45" height="10.8" fill="#9c1456" stroke="#1c1c1c" stroke-width="0.5"/>
<path d="M535.5 237.4V241.5" stroke="#1c1c1c" stroke-width="1"/>
<rect x="534.78" y="239.4" width="1.45" height="1.2" fill="#27702b" stroke="#1c1c1c" stroke-width="0.5"/>
<path d="M537.5 213.4V229.0" stroke="#1c1c1c" stroke-width="1"/>
<rect x="536.78" y="214.0" width="1.45" height="14.3" fill="#9c1456" stroke="#1c1c1c" stroke-width="0.5"/>
<path d="M540.5 221.0V234.4" stroke="#1c1c1c" stroke-width="1"/>
<rect x="539.78" y="228.3" width="1.45" height="3.4" fill="#9c1456" stroke="#1c1c1c" stroke-width="0.5"/>
<path d="M543.5 220.0V235.0" stroke="#1c1c1c" stroke-width="1"/>
<rect x="542.78" y="229.7" width="1.45" height="2.0" fill="#27702b" stroke="#1c1c1c" stroke-width="0.5"/>
<path d="M546.5 223.0V232.4" stroke="#1c1c1c" stroke-width="1"/>
<rect x="545.78" y="225.6" width="1.45" height="4.1" fill="#27702b" stroke="#1c1c1c" stroke-width="0.5"/>
<path d="M550.5 222.6V231.7" stroke="#1c1c1c" stroke-width="1"/>
<rect x="549.78" y="224.5" width="1.45" height="1.2" fill="#27702b" stroke="#1c1c1c" stroke-width="0.5"/>
<path d="M552.5 220.2V225.0" stroke="#1c1c1c" stroke-width="1"/>
<rect x="551.78" y="221.5" width="1.45" height="3.0" fill="#27702b" stroke="#1c1c1c" stroke-width="0.5"/>
<path d="M555.5 212.0V222.0" stroke="#1c1c1c" stroke-width="1"/>
<rect x="554.78" y="216.0" width="1.45" height="5.5" fill="#27702b" stroke="#1c1c1c" stroke-width="0.5"/>
<path d="M558.5 206.9V218.1" stroke="#1c1c1c" stroke-width="1"/>
<rect x="557.78" y="210.0" width="1.45" height="6.0" fill="#27702b" stroke="#1c1c1c" stroke-width="0.5"/>
<path d="M561.5 209.2V228.1" stroke="#1c1c1c" stroke-width="1"/>
<rect x="560.78" y="210.0" width="1.45" height="16.3" fill="#9c1456" stroke="#1c1c1c" stroke-width="0.5"/>
<path d="M564.5 216.0V226.9" stroke="#1c1c1c" stroke-width="1"/>
<rect x="563.78" y="223.6" width="1.45" height="2.7" fill="#27702b" stroke="#1c1c1c" stroke-width="0.5"/>
<path d="M567.5 201.7V229.6" stroke="#1c1c1c" stroke-width="1"/>
<rect x="566.78" y="205.3" width="1.45" height="18.3" fill="#27702b" stroke="#1c1c1c" stroke-width="0.5"/>
<path d="M570.5 203.4V215.6" stroke="#1c1c1c" stroke-width="1"/>
<rect x="569.78" y="205.3" width="1.45" height="6.7" fill="#9c1456" stroke="#1c1c1c" stroke-width="0.5"/>
<path d="M573.5 204.0V215.5" stroke="#1c1c1c" stroke-width="1"/>
<rect x="572.78" y="211.9" width="1.45" height="1.2" fill="#9c1456" stroke="#1c1c1c" stroke-width="0.5"/>
<path d="M576.5 207.3V216.8" stroke="#1c1c1c" stroke-width="1"/>
<rect x="575.78" y="212.2" width="1.45" height="1.2" fill="#27702b" stroke="#1c1c1c" stroke-width="0.5"/>
<path d="M578.5 199.2V218.2" stroke="#1c1c1c" stroke-width="1"/>
<rect x="577.78" y="212.5" width="1.45" height="5.0" fill="#9c1456" stroke="#1c1c1c" stroke-width="0.5"/>
<path d="M582.5 206.6V220.0" stroke="#1c1c1c" stroke-width="1"/>
<rect x="581.78" y="212.7" width="1.45" height="4.8" fill="#27702b" stroke="#1c1c1c" stroke-width="0.5"/>
<path d="M585.5 196.5V214.0" stroke="#1c1c1c" stroke-width="1"/>
<rect x="584.78" y="198.5" width="1.45" height="14.2" fill="#27702b" stroke="#1c1c1c" stroke-width="0.5"/>
<path d="M588.5 198.0V237.8" stroke="#1c1c1c" stroke-width="1"/>
<rect x="587.78" y="198.5" width="1.45" height="28.5" fill="#9c1456" stroke="#1c1c1c" stroke-width="0.5"/>
<path d="M591.5 216.2V229.6" stroke="#1c1c1c" stroke-width="1"/>
<rect x="590.78" y="216.8" width="1.45" height="10.2" fill="#27702b" stroke="#1c1c1c" stroke-width="0.5"/>
<path d="M594.5 206.3V217.5" stroke="#1c1c1c" stroke-width="1"/>
<rect x="593.78" y="207.3" width="1.45" height="9.5" fill="#27702b" stroke="#1c1c1c" stroke-width="0.5"/>
<path d="M596.5 206.7V223.0" stroke="#1c1c1c" stroke-width="1"/>
<rect x="595.78" y="207.3" width="1.45" height="10.7" fill="#9c1456" stroke="#1c1c1c" stroke-width="0.5"/>
<path d="M600.5 216.7V254.1" stroke="#1c1c1c" stroke-width="1"/>
<rect x="599.78" y="217.4" width="1.45" height="35.9" fill="#9c1456" stroke="#1c1c1c" stroke-width="0.5"/>
<path d="M602.5 238.5V257.6" stroke="#1c1c1c" stroke-width="1"/>
<rect x="601.78" y="240.6" width="1.45" height="12.7" fill="#27702b" stroke="#1c1c1c" stroke-width="0.5"/>
<path d="M605.5 239.9V248.4" stroke="#1c1c1c" stroke-width="1"/>
<rect x="604.78" y="241.4" width="1.45" height="2.8" fill="#9c1456" stroke="#1c1c1c" stroke-width="0.5"/>
<path d="M608.5 242.1V248.4" stroke="#1c1c1c" stroke-width="1"/>
<rect x="607.78" y="243.5" width="1.45" height="1.4" fill="#9c1456" stroke="#1c1c1c" stroke-width="0.5"/>
<path d="M611.5 242.8V255.5" stroke="#1c1c1c" stroke-width="1"/>
<rect x="610.78" y="244.2" width="1.45" height="7.7" fill="#9c1456" stroke="#1c1c1c" stroke-width="0.5"/>
<path d="M614.5 251.2V266.8" stroke="#1c1c1c" stroke-width="1"/>
<rect x="613.78" y="251.9" width="1.45" height="9.9" fill="#9c1456" stroke="#1c1c1c" stroke-width="0.5"/>
<path d="M617.5 254.8V266.0" stroke="#1c1c1c" stroke-width="1"/>
<rect x="616.78" y="260.4" width="1.45" height="4.9" fill="#9c1456" stroke="#1c1c1c" stroke-width="0.5"/>
<path d="M620.5 251.9V266.8" stroke="#1c1c1c" stroke-width="1"/>
<rect x="619.78" y="262.5" width="1.45" height="3.5" fill="#27702b" stroke="#1c1c1c" stroke-width="0.5"/>
<path d="M623.5 256.9V265.3" stroke="#1c1c1c" stroke-width="1"/>
<rect x="622.78" y="258.3" width="1.45" height="4.2" fill="#27702b" stroke="#1c1c1c" stroke-width="0.5"/>
<path d="M626.5 258.3V267.5" stroke="#1c1c1c" stroke-width="1"/>
<rect x="625.78" y="260.4" width="1.45" height="4.9" fill="#9c1456" stroke="#1c1c1c" stroke-width="0.5"/>
<path d="M629.5 254.1V266.8" stroke="#1c1c1c" stroke-width="1"/>
<rect x="628.78" y="255.5" width="1.45" height="10.5" fill="#27702b" stroke="#1c1c1c" stroke-width="0.5"/>
<path d="M632.5 254.8V266.0" stroke="#1c1c1c" stroke-width="1"/>
<rect x="631.78" y="256.2" width="1.45" height="9.1" fill="#9c1456" stroke="#1c1c1c" stroke-width="0.5"/>
<path d="M635.5 263.2V271.7" stroke="#1c1c1c" stroke-width="1"/>
<rect x="634.78" y="265.3" width="1.45" height="5.7" fill="#9c1456" stroke="#1c1c1c" stroke-width="0.5"/>
<path d="M638.5 270.3V285.1" stroke="#1c1c1c" stroke-width="1"/>
<rect x="637.78" y="271.0" width="1.45" height="2.8" fill="#9c1456" stroke="#1c1c1c" stroke-width="0.5"/>
<path d="M641.5 269.6V274.8" stroke="#1c1c1c" stroke-width="1"/>
<rect x="640.78" y="273.0" width="1.45" height="1.2" fill="#9c1456" stroke="#1c1c1c" stroke-width="0.5"/>
<path d="M644.5 273.1V290.0" stroke="#1c1c1c" stroke-width="1"/>
<rect x="643.78" y="273.8" width="1.45" height="10.6" fill="#9c1456" stroke="#1c1c1c" stroke-width="0.5"/>
<path d="M647.5 284.1V295.6" stroke="#1c1c1c" stroke-width="1"/>
<rect x="646.78" y="284.9" width="1.45" height="9.9" fill="#9c1456" stroke="#1c1c1c" stroke-width="0.5"/>
<path d="M650.5 294.0V311.2" stroke="#1c1c1c" stroke-width="1"/>
<rect x="649.78" y="294.8" width="1.45" height="15.6" fill="#9c1456" stroke="#1c1c1c" stroke-width="0.5"/>
<path d="M653.5 303.0V312.9" stroke="#1c1c1c" stroke-width="1"/>
<rect x="652.78" y="310.4" width="1.45" height="1.6" fill="#9c1456" stroke="#1c1c1c" stroke-width="0.5"/>
<path d="M656.5 304.6V315.3" stroke="#1c1c1c" stroke-width="1"/>
<rect x="655.78" y="312.0" width="1.45" height="2.5" fill="#9c1456" stroke="#1c1c1c" stroke-width="0.5"/>
<path d="M659.5 313.7V332.6" stroke="#1c1c1c" stroke-width="1"/>
<rect x="658.78" y="315.3" width="1.45" height="10.7" fill="#9c1456" stroke="#1c1c1c" stroke-width="0.5"/>
<path d="M662.5 315.3V336.7" stroke="#1c1c1c" stroke-width="1"/>
<rect x="661.78" y="317.0" width="1.45" height="15.6" fill="#9c1456" stroke="#1c1c1c" stroke-width="0.5"/>
<path d="M664.5 313.7V334.2" stroke="#1c1c1c" stroke-width="1"/>
<rect x="663.78" y="315.3" width="1.45" height="17.3" fill="#27702b" stroke="#1c1c1c" stroke-width="0.5"/>
<path d="M667.5 317.0V324.4" stroke="#1c1c1c" stroke-width="1"/>
<rect x="666.78" y="318.6" width="1.45" height="4.1" fill="#9c1456" stroke="#1c1c1c" stroke-width="0.5"/>
<path d="M671.5 320.3V329.3" stroke="#1c1c1c" stroke-width="1"/>
<rect x="670.78" y="321.9" width="1.45" height="4.9" fill="#9c1456" stroke="#1c1c1c" stroke-width="0.5"/>
<path d="M673.5 309.6V328.5" stroke="#1c1c1c" stroke-width="1"/>
<rect x="672.78" y="312.9" width="1.45" height="13.1" fill="#27702b" stroke="#1c1c1c" stroke-width="0.5"/>
<path d="M676.5 307.9V314.5" stroke="#1c1c1c" stroke-width="1"/>
<rect x="675.78" y="310.4" width="1.45" height="3.3" fill="#27702b" stroke="#1c1c1c" stroke-width="0.5"/>
<path d="M679.5 305.5V313.7" stroke="#1c1c1c" stroke-width="1"/>
<rect x="678.78" y="307.1" width="1.45" height="5.8" fill="#27702b" stroke="#1c1c1c" stroke-width="0.5"/>
<path d="M682.5 304.6V312.9" stroke="#1c1c1c" stroke-width="1"/>
<rect x="681.78" y="307.9" width="1.45" height="4.1" fill="#9c1456" stroke="#1c1c1c" stroke-width="0.5"/>
<path d="M685.5 307.1V316.1" stroke="#1c1c1c" stroke-width="1"/>
<rect x="684.78" y="311.2" width="1.45" height="4.1" fill="#9c1456" stroke="#1c1c1c" stroke-width="0.5"/>
<path d="M688.5 303.0V320.3" stroke="#1c1c1c" stroke-width="1"/>
<rect x="687.78" y="311.2" width="1.45" height="4.1" fill="#27702b" stroke="#1c1c1c" stroke-width="0.5"/>
<path d="M691.5 310.4V339.2" stroke="#1c1c1c" stroke-width="1"/>
<rect x="690.78" y="311.2" width="1.45" height="22.2" fill="#9c1456" stroke="#1c1c1c" stroke-width="0.5"/>
<path d="M694.5 325.2V334.2" stroke="#1c1c1c" stroke-width="1"/>
<rect x="693.78" y="329.3" width="1.45" height="3.3" fill="#27702b" stroke="#1c1c1c" stroke-width="0.5"/>
<path d="M697.5 328.5V340.0" stroke="#1c1c1c" stroke-width="1"/>
<rect x="696.78" y="331.8" width="1.45" height="5.7" fill="#9c1456" stroke="#1c1c1c" stroke-width="0.5"/>
<path d="M700.5 335.0V348.2" stroke="#1c1c1c" stroke-width="1"/>
<rect x="699.78" y="337.5" width="1.45" height="9.0" fill="#9c1456" stroke="#1c1c1c" stroke-width="0.5"/>
<path d="M703.5 344.9V357.2" stroke="#1c1c1c" stroke-width="1"/>
<rect x="702.78" y="345.7" width="1.45" height="2.5" fill="#9c1456" stroke="#1c1c1c" stroke-width="0.5"/>
<path d="M706.5 338.3V350.7" stroke="#1c1c1c" stroke-width="1"/>
<rect x="705.78" y="343.3" width="1.45" height="4.9" fill="#27702b" stroke="#1c1c1c" stroke-width="0.5"/>
<path d="M709.5 340.8V353.9" stroke="#1c1c1c" stroke-width="1"/>
<rect x="708.78" y="341.6" width="1.45" height="2.5" fill="#27702b" stroke="#1c1c1c" stroke-width="0.5"/>
<path d="M712.5 338.3V344.1" stroke="#1c1c1c" stroke-width="1"/>
<rect x="711.78" y="340.0" width="1.45" height="3.3" fill="#27702b" stroke="#1c1c1c" stroke-width="0.5"/>
<path d="M715.5 334.2V343.3" stroke="#1c1c1c" stroke-width="1"/>
<rect x="714.78" y="337.5" width="1.45" height="2.5" fill="#27702b" stroke="#1c1c1c" stroke-width="0.5"/>
<path d="M718.5 329.3V340.8" stroke="#1c1c1c" stroke-width="1"/>
<rect x="717.78" y="331.8" width="1.45" height="6.5" fill="#27702b" stroke="#1c1c1c" stroke-width="0.5"/>
<path d="M720.5 319.4V332.6" stroke="#1c1c1c" stroke-width="1"/>
<rect x="719.78" y="320.3" width="1.45" height="11.5" fill="#27702b" stroke="#1c1c1c" stroke-width="0.5"/>
<path d="M723.5 319.4V329.3" stroke="#1c1c1c" stroke-width="1"/>
<rect x="722.78" y="320.3" width="1.45" height="7.4" fill="#9c1456" stroke="#1c1c1c" stroke-width="0.5"/>
<path d="M727.5 322.7V338.3" stroke="#1c1c1c" stroke-width="1"/>
<rect x="726.78" y="323.5" width="1.45" height="5.0" fill="#27702b" stroke="#1c1c1c" stroke-width="0.5"/>
<path d="M729.5 321.9V325.2" stroke="#1c1c1c" stroke-width="1"/>
<rect x="728.78" y="323.3" width="1.45" height="1.2" fill="#27702b" stroke="#1c1c1c" stroke-width="0.5"/>
<path d="M732.5 320.3V330.1" stroke="#1c1c1c" stroke-width="1"/>
<rect x="731.78" y="321.1" width="1.45" height="8.2" fill="#9c1456" stroke="#1c1c1c" stroke-width="0.5"/>
<path d="M735.5 327.7V335.0" stroke="#1c1c1c" stroke-width="1"/>
<rect x="734.78" y="328.5" width="1.45" height="4.9" fill="#9c1456" stroke="#1c1c1c" stroke-width="0.5"/>
<path d="M738.5 323.5V335.9" stroke="#1c1c1c" stroke-width="1"/>
<rect x="737.78" y="326.8" width="1.45" height="7.4" fill="#27702b" stroke="#1c1c1c" stroke-width="0.5"/>
<path d="M741.5 307.1V327.7" stroke="#1c1c1c" stroke-width="1"/>
<rect x="740.78" y="307.9" width="1.45" height="18.1" fill="#27702b" stroke="#1c1c1c" stroke-width="0.5"/>
<path d="M744.5 303.8V318.6" stroke="#1c1c1c" stroke-width="1"/>
<rect x="743.78" y="307.9" width="1.45" height="4.1" fill="#9c1456" stroke="#1c1c1c" stroke-width="0.5"/>
<path d="M747.5 309.6V317.8" stroke="#1c1c1c" stroke-width="1"/>
<rect x="746.78" y="312.0" width="1.45" height="5.0" fill="#9c1456" stroke="#1c1c1c" stroke-width="0.5"/>
<path d="M750.5 314.5V319.4" stroke="#1c1c1c" stroke-width="1"/>
<rect x="749.78" y="315.3" width="1.45" height="2.5" fill="#27702b" stroke="#1c1c1c" stroke-width="0.5"/>
<path d="M753.5 312.0V316.1" stroke="#1c1c1c" stroke-width="1"/>
<rect x="752.78" y="312.9" width="1.45" height="2.4" fill="#27702b" stroke="#1c1c1c" stroke-width="0.5"/>
<!-- pivots -->
<path d="M715 94.5H803" stroke="#f7a838" stroke-width="1"/>
<text x="697.7" y="98.2" class="pv" text-anchor="end">R5 (0.592)</text>
<path d="M715 134.5H803" stroke="#f7a838" stroke-width="1"/>
<text x="697.7" y="138.5" class="pv" text-anchor="end">R4 (0.587)</text>
<path d="M715 174.5H803" stroke="#f7a838" stroke-width="1"/>
<text x="697.7" y="178.7" class="pv" text-anchor="end">R3 (0.583)</text>
<path d="M715 214.5H803" stroke="#f7a838" stroke-width="1"/>
<text x="697.7" y="218.0" class="pv" text-anchor="end">R2 (0.578)</text>
<path d="M715 277.5H803" stroke="#f7a838" stroke-width="1"/>
<text x="697.7" y="281.6" class="pv" text-anchor="end">R1 (0.57)</text>
<path d="M715 379.5H803" stroke="#f7a838" stroke-width="1"/>
<text x="697.7" y="383.2" class="pv" text-anchor="end">S1 (0.558)</text>
<path d="M715 419.5H803" stroke="#f7a838" stroke-width="1"/>
<text x="697.7" y="423.2" class="pv" text-anchor="end">S2 (0.553)</text>

<path d="M715 317.5H803" stroke="#333" stroke-width="1"/>
<text x="697.7" y="321.6" font-size="12" fill="#000" stroke="#000" stroke-width="0.2" text-anchor="end">P (0.565)</text>
<!-- MAs -->
<path d="M2.0 124.2C2.2 124.1 0.0 125.0 3.0 123.6C6.0 122.2 13.8 118.5 20.0 116.0C26.2 113.5 34.3 110.8 40.0 108.9C45.7 107.0 49.9 105.6 54.3 104.4C58.7 103.2 62.0 102.6 66.4 102.0C70.8 101.4 76.5 101.1 80.5 100.8C84.5 100.5 87.2 100.4 90.5 100.4C93.8 100.4 95.6 100.4 100.6 100.8C105.6 101.2 114.0 101.9 120.7 102.8C127.4 103.7 135.8 105.2 140.8 106.0C145.9 106.8 147.6 106.9 151.0 107.5C154.4 108.1 156.0 108.3 161.0 109.5C166.0 110.7 174.5 112.9 181.0 114.5C187.5 116.1 193.5 117.2 200.0 119.0C206.5 120.8 213.3 122.9 220.0 125.2C226.7 127.5 233.5 130.1 240.2 132.6C246.9 135.1 253.7 137.9 260.4 140.2C267.1 142.5 275.5 144.8 280.5 146.3C285.5 147.8 287.1 148.1 290.5 149.3C293.9 150.5 295.6 151.1 300.6 153.3C305.6 155.5 315.7 160.1 320.7 162.4C325.7 164.8 327.6 165.5 330.8 167.4C334.0 169.3 336.1 171.4 340.0 174.1C343.9 176.8 349.4 180.6 354.1 183.3C358.8 186.0 363.5 188.2 368.2 190.3C372.9 192.4 377.6 194.1 382.3 196.0C387.0 197.9 391.7 199.7 396.4 201.6C401.1 203.5 405.9 205.5 410.6 207.3C415.3 209.1 420.0 210.7 424.7 212.2C429.4 213.7 434.1 215.2 438.8 216.4C443.5 217.6 448.2 218.6 452.9 219.3C457.6 220.0 462.5 220.3 467.0 220.7C471.5 221.1 476.1 221.4 480.0 221.8C483.9 222.2 487.3 222.8 490.6 223.2C493.9 223.6 495.1 223.6 500.0 224.3C504.9 225.0 513.3 226.3 520.0 227.6C526.7 228.9 533.3 230.7 540.0 232.0C546.7 233.3 553.6 234.5 560.4 235.5C567.1 236.5 573.8 237.3 580.5 238.1C587.2 238.9 593.9 239.7 600.6 240.4C607.3 241.2 614.0 241.7 620.7 242.6C627.4 243.5 634.1 244.5 640.8 245.6C647.5 246.7 654.3 248.0 661.0 249.2C667.7 250.4 674.5 251.6 681.0 252.9C687.5 254.2 693.2 255.2 700.0 256.9C706.8 258.5 714.7 260.9 722.0 262.8C729.3 264.7 738.7 267.1 744.0 268.3C749.3 269.5 752.3 269.8 754.0 270.1" fill="none" stroke="#3d9bf5" stroke-width="2.05" stroke-linecap="round"/>
<!-- channel -->
<path d="M23 49.4L865.8 267.9" stroke="#0a0a0a" stroke-width="2.3" stroke-linecap="round"/>
<path d="M22.6 183L865.6 402" stroke="#0a0a0a" stroke-width="2.3" stroke-linecap="round"/>
<path d="M2.0 109.0C2.2 109.0 0.0 109.1 3.0 108.9C6.0 108.7 13.8 108.4 20.0 108.0C26.2 107.6 33.3 107.0 40.0 106.5C46.7 106.0 53.6 105.0 60.4 104.8C67.2 104.5 73.8 104.7 80.5 105.0C87.2 105.3 93.9 105.7 100.6 106.4C107.3 107.1 114.0 108.3 120.7 109.2C127.4 110.1 134.1 111.0 140.8 112.0C147.5 113.0 154.3 114.2 161.0 115.5C167.7 116.8 174.5 118.4 181.0 120.0C187.5 121.6 193.5 123.3 200.0 124.9C206.5 126.5 213.3 128.4 220.0 129.8C226.7 131.2 233.5 132.1 240.2 133.2C246.9 134.3 253.7 135.5 260.4 136.2C267.1 136.9 273.8 137.0 280.5 137.2C287.2 137.4 293.9 137.4 300.6 137.6C307.3 137.8 314.0 138.0 320.7 138.6C327.4 139.2 334.1 140.2 340.8 141.2C347.5 142.2 354.3 143.5 361.0 144.7C367.7 145.9 374.5 147.0 381.0 148.3C387.5 149.6 395.2 151.3 400.0 152.3C404.8 153.3 405.0 152.8 410.0 154.1C415.0 155.4 423.5 158.4 430.2 160.2C436.9 161.9 443.7 163.3 450.4 164.6C457.1 165.9 463.8 167.2 470.5 168.2C477.2 169.2 483.9 169.6 490.6 170.8C497.3 172.0 504.0 173.7 510.7 175.3C517.4 176.9 524.1 178.6 530.8 180.3C537.5 182.0 544.3 183.6 551.0 185.3C557.7 187.0 564.5 188.8 571.0 190.4C577.5 192.0 585.1 193.5 590.0 194.8C594.9 196.1 595.5 196.4 600.6 198.0C605.7 199.6 614.0 202.2 620.7 204.2C627.4 206.2 634.1 208.0 640.8 210.2C647.5 212.4 654.3 215.1 661.0 217.3C667.7 219.5 674.5 221.2 681.0 223.3C687.5 225.4 693.2 227.6 700.0 230.0C706.8 232.4 714.7 235.2 722.0 237.5C729.3 239.8 738.7 242.4 744.0 243.7C749.3 245.0 752.3 244.9 754.0 245.2" fill="none" stroke="#e5127d" stroke-width="2.05" stroke-linecap="round"/>
<!-- fib -->
<path d="M578.5 185.7H919M578.5 253.6H919M578.5 274.8H919M578.5 295.6H919M578.5 362.7H919" stroke="#15171f" stroke-width="1.75"/>
<path d="M578.5 185.7L704 360.6" stroke="#2a2a2a" stroke-width="1.95" stroke-linecap="round"/>
<text x="911.5" y="178.7" class="fb" text-anchor="end">100.00% (0.58128)</text>
<text x="911.5" y="245.4" class="fb" text-anchor="end">61.80% (0.57309)</text>
<text x="911.5" y="265.8" class="fb" text-anchor="end">50.00% (0.57056)</text>
<text x="911.5" y="286.9" class="fb" text-anchor="end">38.20% (0.56803)</text>
<text x="911.5" y="355" class="fb" text-anchor="end">0.00% (0.55984)</text>
<!-- callout -->
<path d="M416.2 86H535.4a6 6 0 0 1 6 6V129.4a6 6 0 0 1-6 6H418L404 140.4L410.2 127.3V92a6 6 0 0 1 6-6Z" fill="#74b4f7" stroke="#4fa0f5" stroke-width="1"/>
<text x="420.6" y="107.2" font-size="12.3" font-weight="bold" fill="#fff" letter-spacing="0.38">Descending trend</text>
<text x="420.6" y="121.3" font-size="12.3" font-weight="bold" fill="#fff" letter-spacing="0.38">channel</text>
<!-- bull -->
<path d="M396.4 338.4L410.2 323.3L411.7 324.2L416.5 325.8L437.2 310.7L441.6 312.6L446.7 317.6L448.6 320.2L453.0 321.4L459.5 319.5L455.5 322.9L450.4 323.7L449.8 326.4L448.6 330.2L446.7 332.7L444.2 332.1L442.3 329.6L440.4 330.5L441.6 335.3L440.4 339.0L436.6 343.4L436.0 340.3L437.9 337.1L437.2 334.0L434.1 335.3L427.8 337.1L420.3 337.1L417.7 340.9L414.0 344.1L405.2 345.3L401.4 347.2L397.6 346.8L405.2 339.0L408.3 331.5L410.3 325.6L398.2 339.3Z" fill="#000"/>
<!-- title -->
<text x="14.2" y="24.3" font-size="15" fill="#1a1a1a" letter-spacing="0.35">NZD/USD: 4-hour</text>
</g>
<!-- axes -->
<path d="M919.5 2V469" stroke="#808080" stroke-width="1"/>
<path d="M3 437.5H990" stroke="#808080" stroke-width="1"/>
<text x="930" y="76.8" class="ax">0.59500</text>
<text x="930" y="118.2" class="ax">0.59000</text>
<text x="930" y="159.6" class="ax">0.58500</text>
<text x="930" y="201.0" class="ax">0.58000</text>
<text x="930" y="242.4" class="ax">0.57500</text>
<text x="930" y="283.8" class="ax">0.57000</text>
<text x="930" y="366.6" class="ax">0.56000</text>
<text x="930" y="408.0" class="ax">0.55500</text>

<path d="M931 35.5H977" stroke="#666" stroke-width="1" stroke-dasharray="3.5 3"/>
<g clip-path="url(#xc)"><text x="47" y="458" class="ax" text-anchor="middle">17</text>
<text x="118" y="458" class="ax" text-anchor="middle">23</text>
<text x="224" y="458" class="ax b" text-anchor="middle">Oct</text>
<text x="295" y="458" class="ax" text-anchor="middle">7</text>
<text x="360" y="458" class="ax" text-anchor="middle">12</text>
<text x="437" y="458" class="ax" text-anchor="middle">17</text>
<text x="515" y="458" class="ax" text-anchor="middle">23</text>
<text x="626.5" y="458" class="ax b" text-anchor="middle">Nov</text>
<text x="703" y="458" class="ax" text-anchor="middle">7</text>
<text x="773.5" y="458" class="ax" text-anchor="middle">13</text>
<text x="844" y="458" class="ax" text-anchor="middle">19</text>
<text x="908" y="458" class="ax">25</text></g>
<defs><clipPath id="xc"><rect x="3" y="438" width="916" height="31"/></clipPath></defs>
<!-- USD box -->
<rect x="923.5" y="5.5" width="62" height="26" rx="4" fill="#fff" stroke="#e4e6eb"/>
<text x="933.3" y="22.2" font-size="12" fill="#222" textLength="20.6" lengthAdjust="spacingAndGlyphs">USD</text>
<!-- price label -->
<path d="M920 303H984a2 2 0 0 1 2 2V322a2 2 0 0 1-2 2H920Z" fill="#2cb52c"/>
<text x="930" y="318.4" font-size="13.4" fill="#fff" stroke="#fff" stroke-width="0.35">0.56589</text>
<path d="M931 325H977" stroke="#777" stroke-width="1" stroke-dasharray="2.5 3.2"/>
<!-- TV logo -->
<g fill="#131313">
<path d="M5 492.4H16.8V507H11V499H5Z"/>
<circle cx="20.2" cy="495.5" r="2.55"/>
<path d="M27.8 492.4H35L30 507H22.6Z"/>
<text x="41.8" y="507" font-size="20.4" font-weight="bold" letter-spacing="0.38">TradingView</text>
</g>
</svg>
</body></html>
